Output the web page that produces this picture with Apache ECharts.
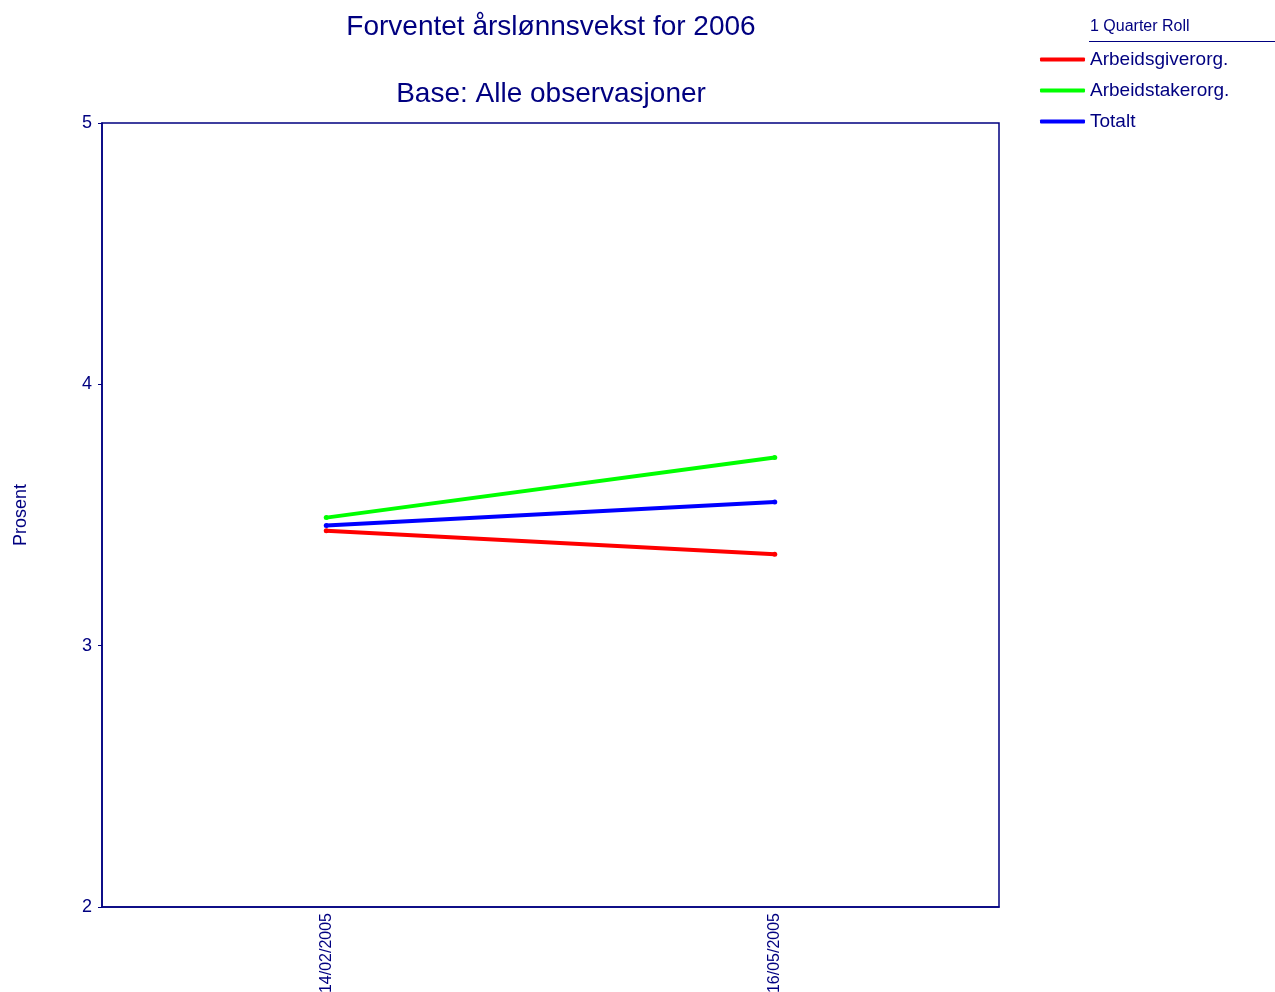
<!DOCTYPE html>
<html>
<head>
<meta charset="utf-8">
<script src="https://cdn.jsdelivr.net/npm/echarts@6/dist/echarts.min.js"></script>
<style>html,body{margin:0;padding:0;background:#fff}#c{width:1275px;height:992px}</style>
</head>
<body>
<div id="c"></div>
<script>
var categories = ['14/02/2005', '16/05/2005'];
var arbeidsgiverorg = [3.44, 3.35];
var arbeidstakerorg = [3.49, 3.72];
var totalt = [3.46, 3.55];
var seriesNames = ['Arbeidsgiverorg.', 'Arbeidstakerorg.', 'Totalt'];
var seriesColors = ['#ff0000', '#00ff00', '#0000ff'];
var seriesData = [arbeidsgiverorg, arbeidstakerorg, totalt];
var navy = '#000080';
var font = 'Liberation Sans, Arial, sans-serif';

var chart = echarts.init(document.getElementById('c'));
chart.setOption({
  animation: false,
  backgroundColor: '#fff',
  title: [
    {text: 'Forventet årslønnsvekst for 2006', left: 551, top: 13, textAlign: 'center', padding: 0,
     textStyle: {color: navy, fontSize: 28, fontWeight: 'normal', fontFamily: font}},
    {text: 'Base: Alle observasjoner', left: 551, top: 80, textAlign: 'center', padding: 0,
     textStyle: {color: navy, fontSize: 28, fontWeight: 'normal', fontFamily: font}}
  ],
  legend: {
    orient: 'vertical', left: 1040, top: 50, padding: 0, itemWidth: 45, itemHeight: 4, itemGap: 12,
    icon: 'roundRect',
    textStyle: {color: navy, fontSize: 19, fontFamily: font, padding: [0, 0, 0, 0]},
    data: seriesNames
  },
  graphic: [
    {type: 'text', left: 1090, top: 19, style: {text: '1 Quarter Roll', fill: navy, font: '16px ' + font}},
    {type: 'line', shape: {x1: 1089, y1: 41.5, x2: 1275, y2: 41.5}, style: {stroke: navy, lineWidth: 1}}
  ],
  grid: {left: 102, right: 276, top: 123, bottom: 85, outerBoundsMode: 'none', containLabel: false,
         show: true, borderColor: navy, borderWidth: 1.5, backgroundColor: '#fff'},
  xAxis: {
    type: 'category', data: categories, boundaryGap: true,
    axisLine: {lineStyle: {color: navy, width: 1.5}},
    axisTick: {alignWithLabel: true, length: 4, lineStyle: {color: navy}, interval: 0},
    axisLabel: {rotate: 90, color: navy, fontSize: 16, fontFamily: font, margin: 6, interval: 0},
    splitLine: {show: false}
  },
  yAxis: {
    type: 'value', min: 2, max: 5, interval: 1,
    name: 'Prosent', nameLocation: 'middle', nameGap: 72,
    nameTextStyle: {color: navy, fontSize: 18, fontFamily: font},
    axisLine: {show: true, lineStyle: {color: navy, width: 1.5}},
    axisTick: {show: true, length: 4, lineStyle: {color: navy}},
    axisLabel: {color: navy, fontSize: 18, fontFamily: font, margin: 10},
    splitLine: {show: false}
  },
  series: seriesNames.map(function (n, i) {
    return {
      name: n, type: 'line', data: seriesData[i],
      symbol: 'circle', symbolSize: 5, showSymbol: true,
      itemStyle: {color: seriesColors[i]},
      lineStyle: {color: seriesColors[i], width: 4}
    };
  })
});
</script>
</body>
</html>
